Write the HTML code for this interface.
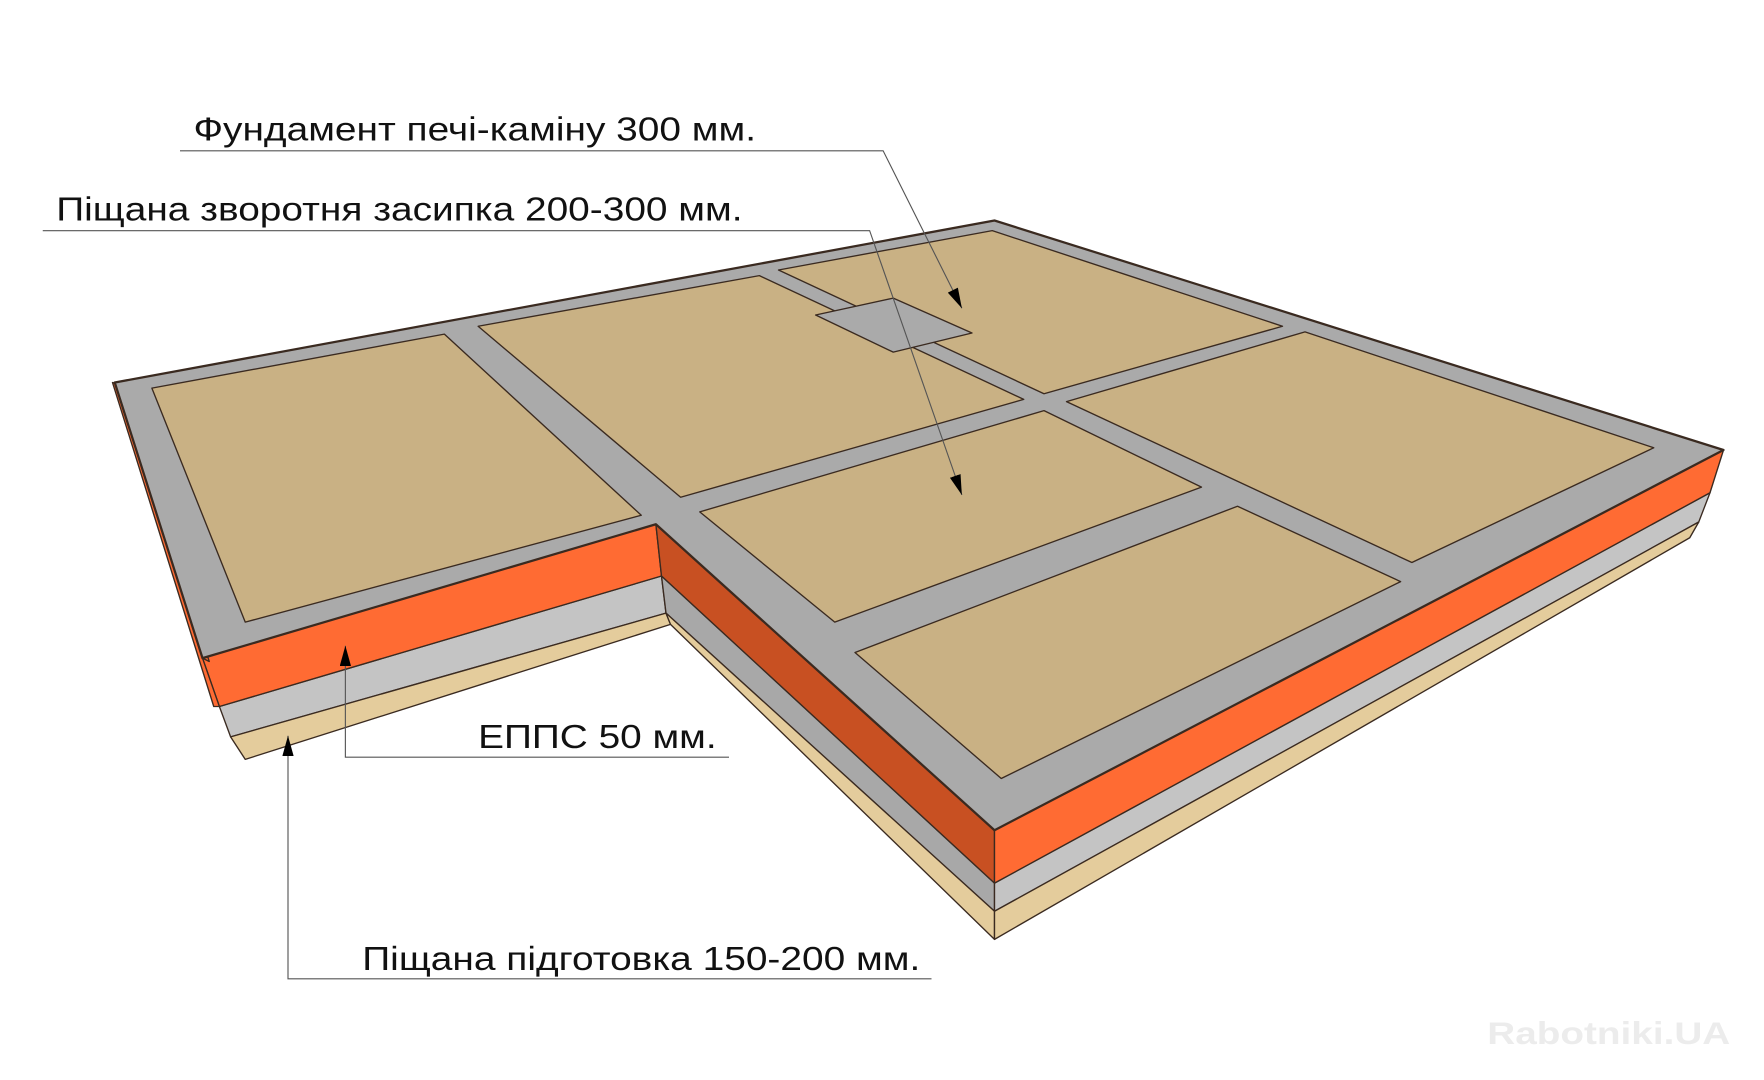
<!DOCTYPE html>
<html><head><meta charset="utf-8"><style>
html,body{margin:0;padding:0;background:#fff;}
svg{display:block;}
text{font-family:"Liberation Sans",Arial,sans-serif;fill:#111;}
</style></head><body>
<svg width="1764" height="1080" viewBox="0 0 1568 960" preserveAspectRatio="none" xmlns="http://www.w3.org/2000/svg">
<defs>
<marker id="ar" viewBox="0 0 18 10" refX="18" refY="5" markerWidth="18" markerHeight="10" orient="auto" markerUnits="userSpaceOnUse">
<path d="M0,0 L18,5 L0,10 Z" fill="#000"/></marker>
</defs>
<g stroke="#3a2a20" stroke-width="1.2" stroke-linejoin="round">
<!-- left wing layers -->
<polygon points="195,628 588,512 592,545 205,655" fill="#c4c4c4"/>
<polygon points="205,655 592,545 596,555 218,675" fill="#e4cc9c"/>
<polygon points="180,585 583,466 588,512 195,628" fill="#ff6b33"/>
<polygon points="100,340 106,342 186,588 180,585 195,628 190,628" fill="#ff6b33"/>
<!-- notch face -->
<polygon points="588,512 884,785 884,810 592,545" fill="#a8a8a8"/>
<polygon points="592,545 884,810 884,835 596,555" fill="#e4cc9c"/>
<polygon points="583,466 884,738 884,785 588,512" fill="#c85022"/>
<!-- right front face -->
<polygon points="884,785 1520,438 1510,464 884,810" fill="#c4c4c4"/>
<polygon points="884,810 1510,464 1502,478 884,835" fill="#e4cc9c"/>
<polygon points="884,738 1532,400 1520,438 884,785" fill="#ff6b33"/>
<!-- top gray surface -->
<polygon points="102,340 884,196 1532,400 884,738 583,466 180,585" fill="#aaaaaa" stroke-width="2"/>
<!-- beige panels -->
<polygon points="135,345 395,297 570,458 218,553" fill="#c9b184"/>
<polygon points="425,290 675,245 910,355 605,442" fill="#c9b184"/>
<polygon points="692,240 882,205 1140,290 928,350" fill="#c9b184"/>
<polygon points="948,357 1160,295 1470,398 1255,500" fill="#c9b184"/>
<polygon points="622,455 928,365 1068,433 742,553" fill="#c9b184"/>
<polygon points="760,580 1100,450 1245,517 890,692" fill="#c9b184"/>
<polygon points="725,280 794,265 864,296 794,313" fill="#aaaaaa"/>
</g>
<!-- leader lines -->
<g stroke="#555" stroke-width="1" fill="none">
<polyline points="160,134 785,134 855,274" marker-end="url(#ar)"/>
<polyline points="38,205 773,205 855,440" marker-end="url(#ar)"/>
<polyline points="648,673 307,673 307,574" marker-end="url(#ar)"/>
<polyline points="828,870 256,870 256,654" marker-end="url(#ar)"/>
</g>
<text x="172" y="125" font-size="30" textLength="500" lengthAdjust="spacingAndGlyphs">Фундамент печі-каміну 300 мм.</text>
<text x="50" y="196" font-size="30" textLength="610" lengthAdjust="spacingAndGlyphs">Піщана зворотня засипка 200-300 мм.</text>
<text x="425" y="665" font-size="30" textLength="212" lengthAdjust="spacingAndGlyphs">ЕППС 50 мм.</text>
<text x="322" y="862" font-size="30" textLength="496" lengthAdjust="spacingAndGlyphs">Піщана підготовка 150-200 мм.</text>
<text x="1322" y="928" font-size="28" font-weight="bold" style="fill:#ececec" textLength="216" lengthAdjust="spacingAndGlyphs">Rabotniki.UA</text>
</svg>
</body></html>
